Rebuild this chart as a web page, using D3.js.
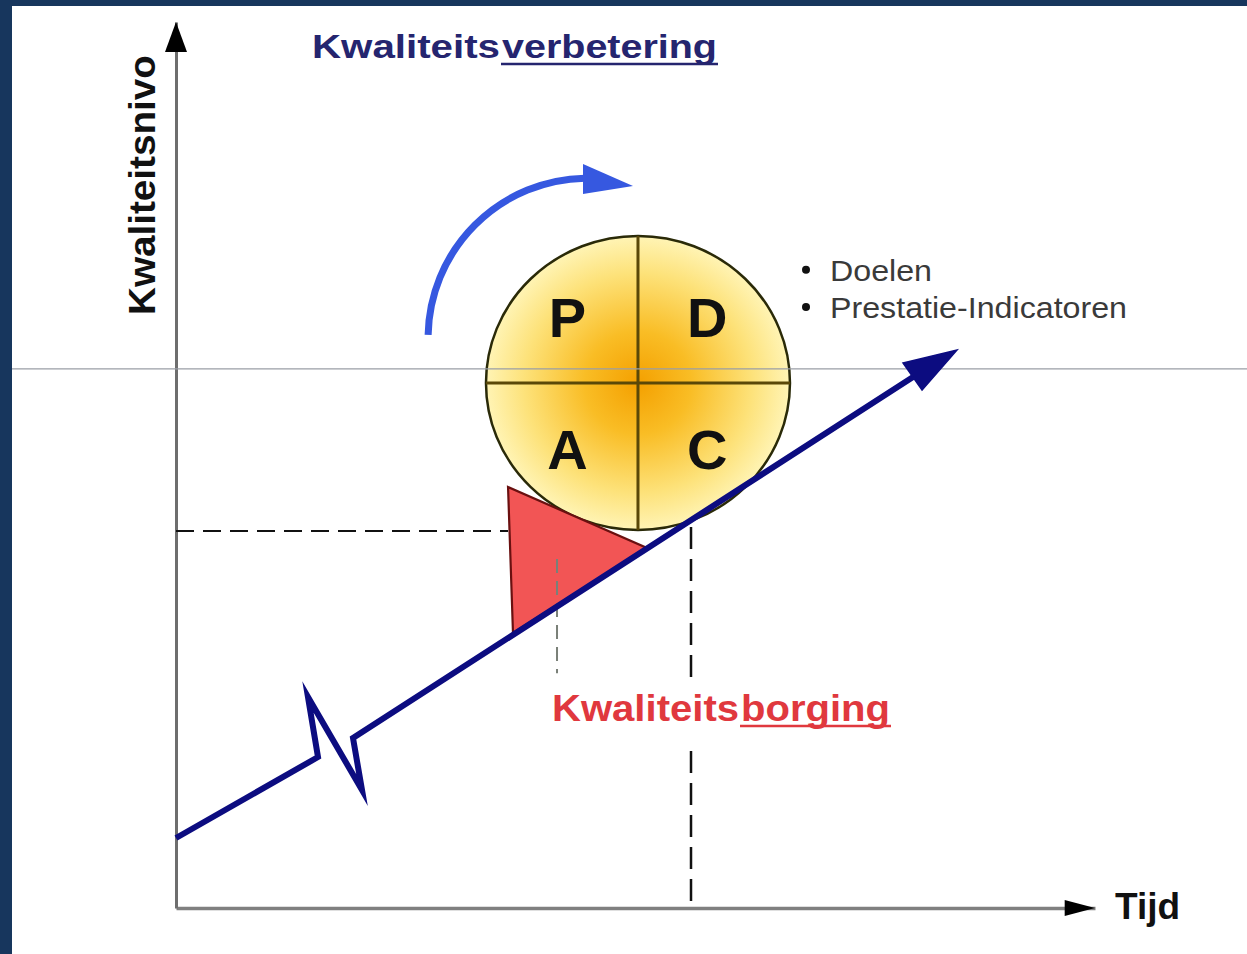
<!DOCTYPE html>
<html>
<head>
<meta charset="utf-8">
<script src="https://cdn.jsdelivr.net/npm/d3@7"></script>
<style>
  html, body { margin: 0; padding: 0; background: #ffffff; }
  svg { display: block; }
  text { font-family: "Liberation Sans", Arial, sans-serif; }
</style>
</head>
<body>
<svg id="chart" width="1247" height="954"></svg>
<script>
// ---------- data (in chart units: Tijd 0-100, Kwaliteitsnivo 0-100) ----------
const axisTitles = ["Tijd", "Kwaliteitsnivo"];
const titleParts = ["Kwaliteits", "verbetering"];
const assuranceParts = ["Kwaliteits", "borging"];
const phases = ["P", "D", "A", "C"];
const phaseX = [42.6, 57.8, 42.6, 57.8];
const phaseY = [64.5, 64.5, 49.6, 49.6];
const bullets = ["Doelen", "Prestatie-Indicatoren"];
const bulletY = [70.8, 66.6];

// quality line with the "break" zig-zag
const qualityLineX = [0, 15.45, 14.36, 20.24, 19.26, 80.2];
const qualityLineY = [7.9, 17.04, 23.81, 13.32, 19.19, 59.93];
const qualityHeadX = [79.11, 84.98, 81.18];
const qualityHeadY = [61.51, 62.98, 58.47];

// red wedge (kwaliteitsborging)
const wedgeX = [36.13, 36.67, 51.25];
const wedgeY = [47.52, 31.04, 40.63];

// PDCA wheel
const wheelCenter = [50.27, 59.26];
const wheelRadius = [16.54, 16.59];

// rotation arrow (arc) around centre, radius in x-units
const rotCenter = [44.83, 64.33];
const rotRadius = 17.4;
const rotHeadX = [44.29, 44.29, 49.73];
const rotHeadY = [83.97, 80.59, 81.49];

// dashed guides
const guideH = { x0: 0, x1: 36.13, y: 42.55 };
const guideV = { x: 56.04, y0: 0, y1: 43.0 };
const guideV2 = { x: 41.46, y0: 26.5, y1: 39.4 };
const refLineY = 60.84;

// ---------- scales ----------
const svg = d3.select("#chart");
const W = 1247, H = 954;
const x = d3.scaleLinear().domain([0, 100]).range([176, 1095]);
const y = d3.scaleLinear().domain([0, 100]).range([908, 22]);

// background + frame
svg.append("rect").attr("width", W).attr("height", H).attr("fill", "#ffffff");
svg.append("rect").attr("x", 0).attr("y", 0).attr("width", 12).attr("height", H).attr("fill", "#17365d");
svg.append("rect").attr("x", 0).attr("y", 0).attr("width", W).attr("height", 6).attr("fill", "#17365d");

// ---------- axes ----------
const xAxis = svg.append("g").attr("transform", `translate(0,${y(0)})`)
  .call(d3.axisBottom(x).tickValues([]).tickSizeOuter(0));
xAxis.select(".domain").attr("stroke", "#808080").attr("stroke-width", 3.5);
const yAxis = svg.append("g").attr("transform", `translate(${x(0)},0)`)
  .call(d3.axisLeft(y).tickValues([]).tickSizeOuter(0));
yAxis.select(".domain").attr("stroke", "#6e6e6e").attr("stroke-width", 3);

// axis arrowheads
svg.append("path")
  .attr("d", d3.line()([[x(96.7), y(0) - 8], [x(100), y(0)], [x(96.7), y(0) + 8]]) + "Z")
  .attr("fill", "#000");
svg.append("path")
  .attr("d", d3.line()([[x(0) - 11, y(96.6)], [x(0), y(100)], [x(0) + 11, y(96.6)]]) + "Z")
  .attr("fill", "#000");

// axis titles
svg.append("text").attr("x", 1115).attr("y", 919)
  .attr("font-size", 37).attr("font-weight", "bold").attr("fill", "#111")
  .text(axisTitles[0]);
svg.append("text")
  .attr("transform", `translate(155,${y(81.6)}) rotate(-90)`)
  .attr("text-anchor", "middle")
  .attr("font-size", 37).attr("font-weight", "bold").attr("fill", "#111")
  .attr("textLength", 260).attr("lengthAdjust", "spacingAndGlyphs")
  .text(axisTitles[1]);

// ---------- PDCA wheel ----------
const defs = svg.append("defs");
const grad = defs.append("radialGradient").attr("id", "wheelGrad")
  .attr("cx", "50%").attr("cy", "50%").attr("r", "50%");
grad.append("stop").attr("offset", "0%").attr("stop-color", "#f4a000");
grad.append("stop").attr("offset", "35%").attr("stop-color", "#f9bd25");
grad.append("stop").attr("offset", "75%").attr("stop-color", "#fde27a");
grad.append("stop").attr("offset", "100%").attr("stop-color", "#fff4b5");

const cx = x(wheelCenter[0]), cy = y(wheelCenter[1]);
const rx = x(wheelRadius[0]) - x(0), ry = y(0) - y(wheelRadius[1]);
svg.append("ellipse").attr("cx", cx).attr("cy", cy).attr("rx", rx).attr("ry", ry)
  .attr("fill", "url(#wheelGrad)").attr("stroke", "#2a2a08").attr("stroke-width", 2.5);
svg.append("line").attr("x1", cx - rx).attr("x2", cx + rx).attr("y1", cy).attr("y2", cy)
  .attr("stroke", "#5a4808").attr("stroke-width", 3);
svg.append("line").attr("x1", cx).attr("x2", cx).attr("y1", cy - ry).attr("y2", cy + ry)
  .attr("stroke", "#5a4808").attr("stroke-width", 3);

svg.selectAll("text.phase").data(phases).join("text").attr("class", "phase")
  .attr("x", (d, i) => x(phaseX[i])).attr("y", (d, i) => y(phaseY[i]))
  .attr("text-anchor", "middle")
  .attr("font-size", 56).attr("font-weight", "bold").attr("fill", "#111")
  .text(d => d);

// thin grey reference line across
svg.append("line").attr("x1", 12).attr("x2", W).attr("y1", y(refLineY)).attr("y2", y(refLineY))
  .attr("stroke", "#9a9ea6").attr("stroke-width", 1.2);

// ---------- dashed guides ----------
svg.append("line").attr("x1", x(guideH.x0)).attr("x2", x(guideH.x1))
  .attr("y1", y(guideH.y)).attr("y2", y(guideH.y))
  .attr("stroke", "#111").attr("stroke-width", 2).attr("stroke-dasharray", "18,9");
svg.append("line").attr("x1", x(guideV.x)).attr("x2", x(guideV.x))
  .attr("y1", y(guideV.y1)).attr("y2", y(guideV.y0))
  .attr("stroke", "#111").attr("stroke-width", 2.5).attr("stroke-dasharray", "22,10");

// ---------- red wedge ----------
svg.append("path")
  .attr("d", d3.line()(wedgeX.map((v, i) => [x(v), y(wedgeY[i])])) + "Z")
  .attr("fill", "#f25555").attr("stroke", "#6a1010").attr("stroke-width", 2.2)
  .attr("stroke-linejoin", "miter");
svg.append("line").attr("x1", x(guideV2.x)).attr("x2", x(guideV2.x))
  .attr("y1", y(guideV2.y1)).attr("y2", y(guideV2.y0))
  .attr("stroke", "#7a8078").attr("stroke-width", 2).attr("stroke-dasharray", "14,8");

// ---------- quality line ----------
svg.append("path")
  .attr("d", d3.line()(qualityLineX.map((v, i) => [x(v), y(qualityLineY[i])])))
  .attr("fill", "none").attr("stroke", "#0c0c80").attr("stroke-width", 6)
  .attr("stroke-linejoin", "miter").attr("stroke-miterlimit", 10);
svg.append("path")
  .attr("d", d3.line()(qualityHeadX.map((v, i) => [x(v), y(qualityHeadY[i])])) + "Z")
  .attr("fill", "#0c0c80").attr("stroke", "#0c0c80").attr("stroke-width", 1.5);

// ---------- rotation arrow ----------
const rcx = x(rotCenter[0]), rcy = y(rotCenter[1]);
const rr = x(rotRadius) - x(0);
const rotArc = d3.arc().innerRadius(rr).outerRadius(rr).startAngle(-Math.PI / 2 + 0.02).endAngle(-0.02);
svg.append("path")
  .attr("transform", `translate(${rcx},${rcy})`)
  .attr("d", rotArc())
  .attr("fill", "none").attr("stroke", "#3658e0").attr("stroke-width", 7).attr("stroke-linecap", "round");
svg.append("path")
  .attr("d", d3.line()(rotHeadX.map((v, i) => [x(v), y(rotHeadY[i])])) + "Z")
  .attr("fill", "#3658e0");

// ---------- titles ----------
const t1 = svg.append("g");
t1.append("text").attr("x", 312).attr("y", 58)
  .attr("font-size", 34).attr("font-weight", "bold").attr("fill", "#25256f")
  .attr("textLength", 188).attr("lengthAdjust", "spacingAndGlyphs").text(titleParts[0]);
t1.append("text").attr("x", 502).attr("y", 58)
  .attr("font-size", 34).attr("font-weight", "bold").attr("fill", "#25256f")
  .attr("textLength", 215).attr("lengthAdjust", "spacingAndGlyphs").text(titleParts[1]);
t1.append("line").attr("x1", 501).attr("x2", 718).attr("y1", 64).attr("y2", 64)
  .attr("stroke", "#25256f").attr("stroke-width", 2.5);

const t2 = svg.append("g");
t2.append("rect").attr("x", 548).attr("y", 678).attr("width", 348).attr("height", 66).attr("fill", "#ffffff");
t2.append("text").attr("x", 552).attr("y", 721)
  .attr("font-size", 37).attr("font-weight", "bold").attr("fill", "#e0383e")
  .attr("textLength", 187).attr("lengthAdjust", "spacingAndGlyphs").text(assuranceParts[0]);
t2.append("text").attr("x", 741).attr("y", 721)
  .attr("font-size", 37).attr("font-weight", "bold").attr("fill", "#e0383e")
  .attr("textLength", 149).attr("lengthAdjust", "spacingAndGlyphs").text(assuranceParts[1]);
t2.append("line").attr("x1", 740).attr("x2", 891).attr("y1", 726).attr("y2", 726)
  .attr("stroke", "#e0383e").attr("stroke-width", 2.5);

// ---------- bullets ----------
const bl = svg.append("g");
bl.selectAll("circle").data(bullets).join("circle")
  .attr("cx", 806).attr("cy", (d, i) => y(bulletY[i]) - 11).attr("r", 4).attr("fill", "#111");
bl.selectAll("text").data(bullets).join("text")
  .attr("x", 830).attr("y", (d, i) => y(bulletY[i]))
  .attr("font-size", 30).attr("fill", "#3a3a3a")
  .attr("textLength", (d, i) => i === 0 ? 102 : 297).attr("lengthAdjust", "spacingAndGlyphs")
  .text(d => d);
</script>
</body>
</html>
